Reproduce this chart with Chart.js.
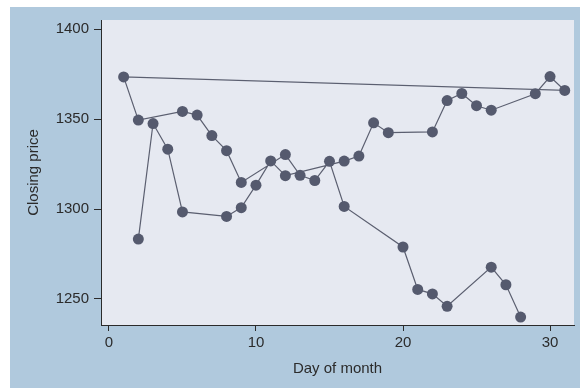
<!DOCTYPE html>
<html>
<head>
<meta charset="utf-8">
<script src="https://cdn.jsdelivr.net/npm/chart.js@4/dist/chart.umd.min.js"></script>
<style>
  html, body { margin: 0; padding: 0; background: #ffffff; }
  #wrap { width: 580px; height: 388px; }
</style>
</head>
<body>
<div id="wrap"><canvas id="priceChart" width="580" height="388"></canvas></div>
<script>
// S&P 500 closing prices, in trading order (January then February)
const days = [2, 3, 4, 5, 8, 9, 10, 11, 12, 16, 17, 18, 19, 22, 23, 24, 25, 26, 29, 30, 31,
              1, 2, 5, 6, 7, 8, 9, 12, 13, 14, 15, 16, 20, 21, 22, 23, 26, 27, 28];
const closes = [1283.3, 1347.6, 1333.3, 1298.4, 1295.9, 1300.8, 1313.3, 1326.8, 1318.6, 1326.7,
                1329.5, 1348.0, 1342.5, 1342.9, 1360.4, 1364.3, 1357.5, 1355.0, 1364.2, 1373.7, 1366.0,
                1373.5, 1349.5, 1354.3, 1352.3, 1340.9, 1332.5, 1314.8, 1330.3, 1318.8, 1315.9,
                1326.6, 1301.5, 1278.9, 1255.3, 1252.8, 1245.9, 1267.7, 1257.9, 1239.9];
const xTicks = [0, 10, 20, 30];
const yTicks = [1250, 1300, 1350, 1400];

const points = days.map((d, i) => ({ x: d, y: closes[i] }));

const tickFont = { family: "'Liberation Sans', Arial, sans-serif", size: 15 };
const ink = "#2b2b2b";

// Stata-like backgrounds: graph region and plot region
const backdrop = {
    id: "backdrop",
    beforeDraw(chart) {
        const ctx = chart.ctx;
        const a = chart.chartArea;
        ctx.save();
        ctx.fillStyle = "#ffffff";
        ctx.fillRect(0, 0, chart.width, chart.height);
        ctx.fillStyle = "#b0c9dd";
        ctx.fillRect(10, 7, chart.width - 10, chart.height - 7);
        ctx.fillStyle = "#e6e9f1";
        ctx.fillRect(a.left, a.top, a.right - a.left, a.bottom - a.top);
        ctx.restore();
    },
};

new Chart(document.getElementById("priceChart"), {
    type: "scatter",
    data: {
        datasets: [
            {
                label: "Closing price",
                data: points,
                showLine: true,
                borderColor: "#5b5f70",
                borderWidth: 1.2,
                pointRadius: 5.5,
                pointBackgroundColor: "#555a6e",
                pointBorderColor: "#555a6e",
                pointBorderWidth: 0,
            },
        ],
    },
    options: {
        responsive: false,
        animation: false,
        events: [],
        layout: { padding: { top: 20, right: 6, left: 10, bottom: 0 } },
        plugins: {
            legend: { display: false },
            tooltip: { enabled: false },
        },
        scales: {
            x: {
                type: "linear",
                min: -0.54,
                max: 31.63,
                afterBuildTicks: (s) => { s.ticks = xTicks.map((v) => ({ value: v })); },
                afterFit: (s) => { s.height = 63; },
                grid: { drawOnChartArea: false, drawTicks: true, tickLength: 6, color: ink },
                border: { display: true, color: ink, width: 1 },
                ticks: { color: ink, font: tickFont, padding: 3, maxRotation: 0, callback: (v) => String(v) },
                title: { display: true, text: "Day of month", color: ink, font: tickFont, padding: { top: 10, bottom: 10 } },
            },
            y: {
                type: "linear",
                min: 1235.5,
                max: 1405.2,
                afterBuildTicks: (s) => { s.ticks = yTicks.map((v) => ({ value: v })); },
                afterFit: (s) => { s.width = 91; },
                grid: { drawOnChartArea: false, drawTicks: true, tickLength: 7, color: ink },
                border: { display: true, color: ink, width: 1 },
                ticks: { color: ink, font: tickFont, padding: 5, callback: (v) => String(v) },
                title: { display: true, text: "Closing price", color: ink, font: tickFont, padding: { top: 15, bottom: 15 } },
            },
        },
    },
    plugins: [backdrop],
});
</script>
</body>
</html>
